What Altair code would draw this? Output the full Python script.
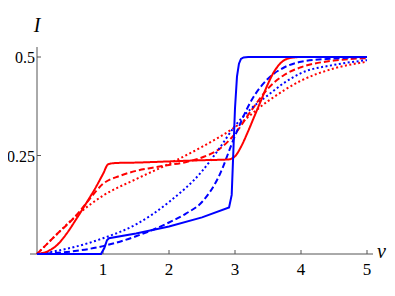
import altair as alt
import pandas as pd

# ---- data ----
red_solid_v = [0, 0.15, 0.3, 0.45, 0.6, 0.75, 0.9, 1.0, 1.08, 1.2, 1.5, 2.0, 2.5, 2.9, 3.0, 3.1, 3.2, 3.3, 3.4, 3.5, 3.6, 3.7, 3.8, 3.9, 4.0, 4.5, 5.0]
red_solid_I = [0, 0.006, 0.022, 0.052, 0.09, 0.13, 0.172, 0.203, 0.228, 0.231, 0.232, 0.235, 0.238, 0.240, 0.248, 0.275, 0.312, 0.352, 0.392, 0.432, 0.465, 0.486, 0.496, 0.499, 0.5, 0.5, 0.5]

red_dashed_v = [0, 0.3, 0.6, 0.8, 1.0, 1.25, 1.5, 1.75, 2.0, 2.25, 2.5, 2.75, 3.0, 3.25, 3.5, 3.75, 4.0, 4.5, 5.0]
red_dashed_I = [0, 0.05, 0.099, 0.14, 0.178, 0.198, 0.211, 0.219, 0.226, 0.233, 0.245, 0.265, 0.305, 0.365, 0.42, 0.455, 0.474, 0.491, 0.497]

red_dotted_v = [0, 0.3, 0.6, 1.0, 1.5, 2.0, 2.5, 3.0, 3.5, 4.0, 4.5, 5.0]
red_dotted_I = [0, 0.05, 0.098, 0.148, 0.19, 0.229, 0.272, 0.322, 0.388, 0.44, 0.471, 0.488]

blue_solid_v = [0, 0.97, 1.02, 1.06, 1.09, 1.5, 2.0, 2.5, 2.91, 2.95, 2.975, 3.0, 3.03, 3.06, 3.09, 3.13, 3.2, 4.0, 5.0]
blue_solid_I = [0, 0, 0.015, 0.035, 0.04, 0.052, 0.07, 0.093, 0.118, 0.15, 0.26, 0.37, 0.45, 0.483, 0.495, 0.499, 0.5, 0.5, 0.5]

blue_dashed_v = [0, 0.5, 1.0, 1.5, 2.0, 2.25, 2.5, 2.75, 3.0, 3.25, 3.5, 3.75, 4.0, 4.5, 5.0]
blue_dashed_I = [0, 0.006, 0.02, 0.045, 0.08, 0.102, 0.132, 0.195, 0.3, 0.39, 0.445, 0.474, 0.488, 0.496, 0.5]

blue_dotted_v = [0, 0.5, 1.0, 1.5, 2.0, 2.5, 2.75, 3.0, 3.25, 3.5, 3.75, 4.0, 4.5, 5.0]
blue_dotted_I = [0, 0.015, 0.04, 0.075, 0.132, 0.21, 0.265, 0.325, 0.37, 0.403, 0.435, 0.459, 0.48, 0.492]

x_ticks = [1, 2, 3, 4, 5]
x_tick_labels = ["1", "2", "3", "4", "5"]
y_ticks = [0.25, 0.5]
y_tick_labels = ["0.25", "0.5"]

series = [
    ("red", "dotted", red_dotted_v, red_dotted_I),
    ("red", "dashed", red_dashed_v, red_dashed_I),
    ("blue", "dotted", blue_dotted_v, blue_dotted_I),
    ("blue", "dashed", blue_dashed_v, blue_dashed_I),
    ("red", "solid", red_solid_v, red_solid_I),
]
rows = []
for color, style, vs, Is in series:
    for i, (a, b) in enumerate(zip(vs, Is)):
        rows.append({"v": a, "I": b, "color": color, "style": style, "key": color + "-" + style, "order": i})
df = pd.DataFrame(rows)
df_bs = pd.DataFrame({"v": blue_solid_v, "I": blue_solid_I, "order": list(range(len(blue_solid_v)))})

FONT = "Liberation Serif"
AX = "#555555"
W, H = 330, 197

xsc = alt.Scale(domain=[0, 5], nice=False, zero=False)
ysc = alt.Scale(domain=[0, 0.5], nice=False, zero=False)

lines = alt.Chart(df).mark_line(strokeWidth=2, interpolate="monotone").encode(
    x=alt.X("v:Q", scale=xsc, axis=None),
    y=alt.Y("I:Q", scale=ysc, axis=None),
    color=alt.Color("color:N", scale=alt.Scale(domain=["red", "blue"], range=["#ff0000", "#0000ff"]), legend=None),
    strokeDash=alt.StrokeDash("style:N", scale=alt.Scale(domain=["solid", "dashed", "dotted"],
                                                         range=[[1, 0], [6, 3], [2, 2.5]]), legend=None),
    detail="key:N",
    order="order:Q",
)

blue_solid = alt.Chart(df_bs).mark_line(strokeWidth=2, color="#0000ff", interpolate="linear").encode(
    x=alt.X("v:Q", scale=xsc, axis=None),
    y=alt.Y("I:Q", scale=ysc, axis=None),
    order="order:Q",
)

xt = pd.DataFrame({"t": x_ticks, "lab": x_tick_labels})
yt = pd.DataFrame({"t": y_ticks, "lab": y_tick_labels})

xtick_rules = alt.Chart(xt).mark_rule(color=AX, strokeWidth=1).encode(
    x=alt.X("t:Q", scale=xsc, axis=None), y=alt.value(H), y2=alt.value(H - 4))
ytick_rules = alt.Chart(yt).mark_rule(color=AX, strokeWidth=1).encode(
    y=alt.Y("t:Q", scale=ysc, axis=None), x=alt.value(0), x2=alt.value(4))

xtick_text = alt.Chart(xt).mark_text(font=FONT, fontSize=17, align="center", baseline="alphabetic",
                                     color="black").encode(
    x=alt.X("t:Q", scale=xsc, axis=None), y=alt.value(H + 21), text="lab:N")
ytick_text = alt.Chart(yt).mark_text(font=FONT, fontSize=16, align="right", baseline="middle",
                                     color="black", dy=1).encode(
    y=alt.Y("t:Q", scale=ysc, axis=None), x=alt.value(-2), text="lab:N")

xaxis_line = alt.Chart(pd.DataFrame({"a": [0]})).mark_rule(color=AX, strokeWidth=1).encode(
    x=alt.value(-7), x2=alt.value(W + 6), y=alt.value(H))
yaxis_line = alt.Chart(pd.DataFrame({"a": [0]})).mark_rule(color=AX, strokeWidth=1).encode(
    x=alt.value(0), y=alt.value(H), y2=alt.value(-10))

ylab = alt.Chart(pd.DataFrame({"t": ["I"]})).mark_text(
    font=FONT, fontSize=20, fontStyle="italic", align="center", baseline="alphabetic", color="black").encode(
    text="t:N", x=alt.value(0), y=alt.value(-25))
xlab = alt.Chart(pd.DataFrame({"t": ["v"]})).mark_text(
    font=FONT, fontSize=20, fontStyle="italic", align="left", baseline="alphabetic", color="black").encode(
    text="t:N", x=alt.value(W + 10), y=alt.value(H + 4))

chart = alt.layer(xaxis_line, yaxis_line, xtick_rules, ytick_rules, lines, blue_solid,
                  xtick_text, ytick_text, ylab, xlab).properties(
    width=W, height=H,
    autosize=alt.AutoSizeParams(type="none"),
    padding={"left": 29, "top": 49, "right": 20, "bottom": 34},
).configure_view(stroke=None)

chart.save("out.html", embed_options={"renderer": "svg", "actions": False})
